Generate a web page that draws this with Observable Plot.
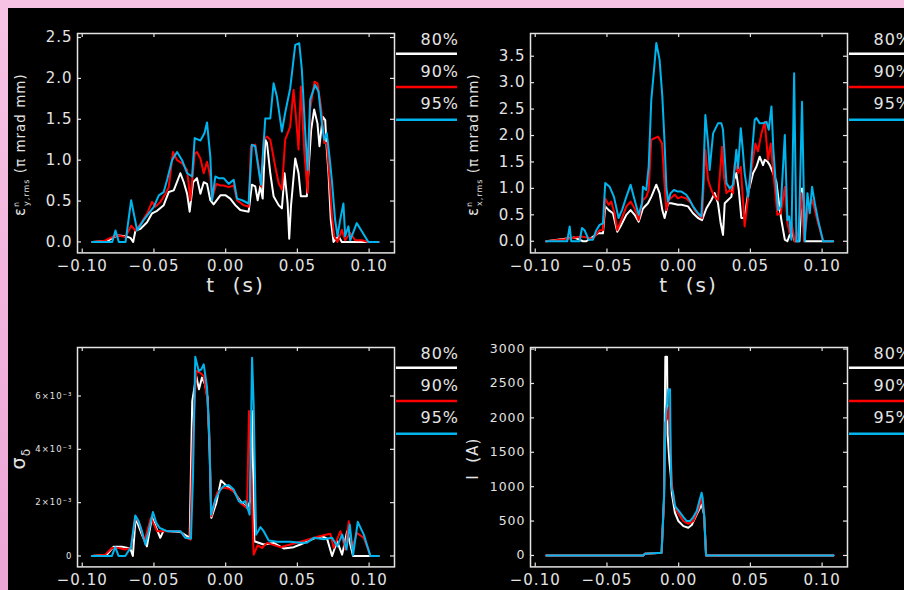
<!DOCTYPE html>
<html><head><meta charset="utf-8">
<script src="https://cdn.jsdelivr.net/npm/d3@7"></script>
<script src="https://cdn.jsdelivr.net/npm/@observablehq/plot@0.6"></script>
<style>
html,body{margin:0;padding:0;width:904px;height:590px;overflow:hidden;}
body{background:linear-gradient(to bottom,#f7c3e4,#eba5d6);position:relative;font-family:"DejaVu Sans",sans-serif;}
#bg{position:absolute;left:8px;top:8px;width:896px;height:582px;background:#000;}
svg{position:absolute;overflow:visible;}
</style></head><body><div id="bg"></div>
<script>
// ---------- data (t in s, value) ----------
const xTicks = [-0.10, -0.05, 0.00, 0.05, 0.10];
const seriesNames = ["80%", "90%", "95%"];
const seriesColors = ["#ffffff", "#ff0000", "#00b4ee"];

// Panel 1: normalised rms vertical emittance (pi mrad mm)
const p1_80 = [[-0.0930,0],[-0.0826,0.01],[-0.0780,0.06],[-0.0745,0.08],[-0.0698,0.07],[-0.0664,0.05],[-0.0645,0],[-0.0629,0.14],[-0.0594,0.16],[-0.0548,0.24],[-0.0513,0.35],[-0.0478,0.38],[-0.0432,0.45],[-0.0397,0.61],[-0.0362,0.63],[-0.0316,0.84],[-0.0292,0.73],[-0.0269,0.59],[-0.0251,0.37],[-0.0227,0.73],[-0.0200,0.78],[-0.0176,0.59],[-0.0153,0.73],[-0.0130,0.71],[-0.0107,0.51],[-0.0084,0.46],[-0.0037,0.57],[0.0000,0.57],[0.0032,0.53],[0.0067,0.45],[0.0102,0.39],[0.0160,0.37],[0.0183,0.70],[0.0206,0.68],[0.0223,0.51],[0.0241,0.68],[0.0258,0.53],[0.0276,1.25],[0.0288,1.21],[0.0311,0.84],[0.0334,0.56],[0.0369,0.45],[0.0392,0.41],[0.0411,0.84],[0.0432,0.47],[0.0443,0.04],[0.0455,0.43],[0.0485,1.02],[0.0508,0.84],[0.0524,0.56],[0.0566,0.56],[0.0596,1.37],[0.0617,1.62],[0.0640,1.45],[0.0654,1.17],[0.0677,1.53],[0.0694,1.49],[0.0705,1.13],[0.0717,0.84],[0.0733,0.27],[0.0752,0],[0.0787,0.07],[0.0810,0],[0.0995,0],[0.1065,0]];
const p1_90 = [[-0.0930,0],[-0.0849,0.01],[-0.0803,0.05],[-0.0756,0.08],[-0.0698,0.06],[-0.0659,0.20],[-0.0629,0.14],[-0.0594,0.22],[-0.0548,0.35],[-0.0513,0.49],[-0.0490,0.43],[-0.0455,0.49],[-0.0420,0.59],[-0.0397,0.67],[-0.0367,1.10],[-0.0339,1.00],[-0.0304,0.96],[-0.0269,0.88],[-0.0246,0.51],[-0.0216,1.08],[-0.0200,1.10],[-0.0176,1.02],[-0.0153,0.84],[-0.0130,0.98],[-0.0107,0.80],[-0.0095,0.53],[-0.0065,0.71],[-0.0037,0.69],[-0.0014,0.69],[0.0021,0.67],[0.0056,0.69],[0.0079,0.51],[0.0125,0.45],[0.0160,0.43],[0.0176,1.17],[0.0206,1.19],[0.0230,0.92],[0.0246,0.68],[0.0265,1.25],[0.0288,1.29],[0.0311,1.25],[0.0346,0.92],[0.0369,0.72],[0.0392,0.64],[0.0415,1.25],[0.0450,1.41],[0.0473,1.86],[0.0490,1.53],[0.0508,1.13],[0.0524,1.90],[0.0548,1.11],[0.0571,0.60],[0.0589,1.62],[0.0619,1.96],[0.0640,1.94],[0.0664,1.66],[0.0687,1.21],[0.0705,1.21],[0.0724,0.76],[0.0740,0.33],[0.0756,0.07],[0.0780,0],[0.0810,0.15],[0.0833,0.02],[0.0868,0.11],[0.0903,0.02],[0.0949,0.02],[0.0995,0],[0.1065,0]];
const p1_95 = [[-0.0930,0],[-0.0791,0],[-0.0768,0.14],[-0.0745,0],[-0.0698,0],[-0.0659,0.51],[-0.0617,0.14],[-0.0571,0.27],[-0.0536,0.35],[-0.0501,0.43],[-0.0466,0.57],[-0.0432,0.61],[-0.0408,0.76],[-0.0374,1.00],[-0.0339,1.10],[-0.0304,1.00],[-0.0269,0.84],[-0.0234,0.80],[-0.0216,1.27],[-0.0176,1.24],[-0.0148,1.33],[-0.0130,1.46],[-0.0107,1.04],[-0.0095,0.51],[-0.0072,0.80],[-0.0049,0.78],[-0.0014,0.78],[0.0021,0.71],[0.0056,0.76],[0.0079,0.53],[0.0114,0.51],[0.0160,0.47],[0.0183,1.19],[0.0206,1.17],[0.0230,0.88],[0.0246,0.70],[0.0265,1.21],[0.0276,1.51],[0.0311,1.51],[0.0334,1.94],[0.0357,1.78],[0.0392,1.35],[0.0415,1.58],[0.0450,1.88],[0.0485,2.41],[0.0513,2.43],[0.0531,2.11],[0.0555,1.33],[0.0571,0.88],[0.0589,1.74],[0.0624,1.92],[0.0647,1.84],[0.0671,1.45],[0.0687,1.25],[0.0705,1.33],[0.0724,1.04],[0.0740,0.76],[0.0763,0.27],[0.0780,0.07],[0.0798,0.27],[0.0821,0.47],[0.0833,0.07],[0.0856,0.19],[0.0868,0.02],[0.0914,0.23],[0.0949,0.13],[0.0995,0],[0.1065,0]];
const p1_yTicks = [0, 0.5, 1.0, 1.5, 2.0, 2.5];

// Panel 2: normalised rms horizontal emittance (pi mrad mm)
const p2_80 = [[-0.0923,0],[-0.0726,0.07],[-0.0667,0],[-0.0644,0],[-0.0563,0.15],[-0.0528,0.15],[-0.0512,0.66],[-0.0488,0.59],[-0.0458,0.53],[-0.0428,0.18],[-0.0400,0.31],[-0.0365,0.50],[-0.0335,0.59],[-0.0307,0.50],[-0.0279,0.37],[-0.0249,0.62],[-0.0214,0.72],[-0.0191,0.84],[-0.0156,1.07],[-0.0133,0.91],[-0.0114,0.59],[-0.0098,0.44],[-0.0074,0.72],[-0.0051,0.72],[-0.0005,0.69],[0.0019,0.69],[0.0065,0.66],[0.0100,0.53],[0.0135,0.44],[0.0163,0.40],[0.0193,0.62],[0.0228,0.78],[0.0251,0.91],[0.0274,0.72],[0.0293,0.34],[0.0309,0.12],[0.0321,0.72],[0.0344,0.78],[0.0367,0.84],[0.0386,1.16],[0.0402,1.29],[0.0419,0.97],[0.0437,0.44],[0.0460,0.44],[0.0484,0.91],[0.0519,1.29],[0.0542,1.41],[0.0565,1.60],[0.0588,1.44],[0.0600,1.54],[0.0619,1.51],[0.0635,1.44],[0.0658,1.29],[0.0681,1.13],[0.0698,0.75],[0.0716,0.40],[0.0740,0.03],[0.0758,0],[0.0786,0.21],[0.0809,0],[0.0842,0],[0.0860,1.00],[0.0879,0],[0.1077,0]];
const p2_90 = [[-0.0923,0],[-0.0795,0.04],[-0.0679,0.09],[-0.0598,0.05],[-0.0551,0.21],[-0.0528,0.21],[-0.0512,0.81],[-0.0488,0.69],[-0.0470,0.75],[-0.0447,0.53],[-0.0428,0.21],[-0.0400,0.40],[-0.0365,0.66],[-0.0335,0.75],[-0.0307,0.62],[-0.0279,0.40],[-0.0249,0.78],[-0.0226,0.84],[-0.0209,0.97],[-0.0191,1.92],[-0.0144,1.98],[-0.0116,1.85],[-0.0102,1.22],[-0.0086,0.59],[-0.0070,0.78],[-0.0028,0.88],[-0.0005,0.81],[0.0019,0.84],[0.0053,0.81],[0.0088,0.72],[0.0112,0.59],[0.0147,0.47],[0.0163,0.44],[0.0186,1.73],[0.0205,1.16],[0.0228,0.97],[0.0251,0.84],[0.0274,0.78],[0.0302,1.79],[0.0316,1.22],[0.0333,0.91],[0.0356,0.97],[0.0379,0.91],[0.0391,1.48],[0.0414,1.29],[0.0433,1.41],[0.0460,0.28],[0.0484,0.84],[0.0507,1.35],[0.0535,1.85],[0.0553,1.70],[0.0577,2.04],[0.0600,2.26],[0.0623,1.54],[0.0642,1.85],[0.0660,1.29],[0.0674,0.91],[0.0688,0.50],[0.0712,0.53],[0.0740,1.03],[0.0758,0.34],[0.0774,0.15],[0.0786,0.37],[0.0809,0],[0.0833,0.15],[0.0856,0.91],[0.0874,0],[0.0902,0.62],[0.0930,0.78],[0.0949,0.59],[0.0972,0.34],[0.1007,0],[0.1077,0]];
const p2_95 = [[-0.0923,0],[-0.0777,0],[-0.0760,0.28],[-0.0749,0],[-0.0691,0],[-0.0674,0.25],[-0.0656,0.21],[-0.0628,0.03],[-0.0598,0.03],[-0.0574,0.21],[-0.0551,0.31],[-0.0528,0.34],[-0.0512,1.10],[-0.0481,1.03],[-0.0451,0.84],[-0.0419,0.44],[-0.0395,0.59],[-0.0365,0.84],[-0.0335,1.07],[-0.0307,0.78],[-0.0279,0.50],[-0.0256,0.72],[-0.0249,1.03],[-0.0226,0.97],[-0.0209,1.41],[-0.0191,2.67],[-0.0172,3.24],[-0.0156,3.75],[-0.0133,3.43],[-0.0114,2.74],[-0.0098,1.85],[-0.0086,1.03],[-0.0074,0.75],[-0.0056,0.91],[-0.0033,0.97],[-0.0005,0.94],[0.0019,0.94],[0.0053,0.88],[0.0077,0.78],[0.0100,0.66],[0.0135,0.53],[0.0158,0.47],[0.0170,1.07],[0.0186,2.39],[0.0205,1.85],[0.0216,1.35],[0.0240,2.04],[0.0274,2.23],[0.0298,2.23],[0.0309,2.11],[0.0333,1.10],[0.0356,1.00],[0.0379,1.07],[0.0402,1.73],[0.0414,1.38],[0.0433,2.14],[0.0447,1.73],[0.0460,1.29],[0.0484,0.84],[0.0502,1.35],[0.0530,2.30],[0.0542,2.33],[0.0565,2.23],[0.0588,2.23],[0.0612,2.26],[0.0628,2.11],[0.0647,2.55],[0.0660,1.73],[0.0674,1.22],[0.0693,0.59],[0.0712,0.66],[0.0740,2.01],[0.0758,0.40],[0.0770,0.47],[0.0786,0.03],[0.0805,3.18],[0.0821,0],[0.0837,0],[0.0860,2.64],[0.0879,0],[0.0898,0.91],[0.0914,0.53],[0.0930,1.03],[0.0949,0.72],[0.0972,0.40],[0.1007,0],[0.1077,0]];
const p2_yTicks = [0, 0.5, 1.0, 1.5, 2.0, 2.5, 3.0, 3.5];

// Panel 3: rms relative energy spread sigma_delta
const p3_80 = [[-0.0933,0],[-0.0828,0.05e-3],[-0.0781,0.35e-3],[-0.0723,0.35e-3],[-0.0665,0.28e-3],[-0.0647,0],[-0.0628,1.43e-3],[-0.0584,0.80e-3],[-0.0549,0.36e-3],[-0.0514,1.45e-3],[-0.0479,0.99e-3],[-0.0456,0.68e-3],[-0.0433,0.95e-3],[-0.0316,0.90e-3],[-0.0251,0.68e-3],[-0.0233,5.81e-3],[-0.0205,6.75e-3],[-0.0186,6.25e-3],[-0.0165,6.69e-3],[-0.0144,6.44e-3],[-0.0126,5.94e-3],[-0.0112,3.93e-3],[-0.0100,1.43e-3],[-0.0065,1.99e-3],[-0.0033,2.83e-3],[0.0009,2.62e-3],[0.0056,2.43e-3],[0.0102,2.06e-3],[0.0149,1.80e-3],[0.0172,2.06e-3],[0.0184,5.44e-3],[0.0200,0.55e-3],[0.0265,0.43e-3],[0.0335,0.49e-3],[0.0405,0.28e-3],[0.0474,0.33e-3],[0.0521,0.43e-3],[0.0614,0.65e-3],[0.0672,0.74e-3],[0.0707,0.65e-3],[0.0742,0],[0.0777,0.55e-3],[0.0812,0.05e-3],[0.0847,0.93e-3],[0.0888,0],[0.1067,0]];
const p3_90 = [[-0.0933,0],[-0.0840,0.05e-3],[-0.0793,0.30e-3],[-0.0747,0.30e-3],[-0.0700,0.24e-3],[-0.0660,0.30e-3],[-0.0630,1.49e-3],[-0.0600,1.20e-3],[-0.0567,0.55e-3],[-0.0521,1.43e-3],[-0.0479,0.93e-3],[-0.0409,0.93e-3],[-0.0316,0.93e-3],[-0.0281,0.70e-3],[-0.0247,0.61e-3],[-0.0228,4.56e-3],[-0.0205,6.94e-3],[-0.0181,6.88e-3],[-0.0153,6.75e-3],[-0.0126,5.81e-3],[-0.0112,4.31e-3],[-0.0100,1.49e-3],[-0.0060,2.37e-3],[-0.0019,2.56e-3],[0.0021,2.53e-3],[0.0067,2.37e-3],[0.0102,1.99e-3],[0.0149,1.80e-3],[0.0163,5.44e-3],[0.0177,3.31e-3],[0.0195,0.05e-3],[0.0223,0.40e-3],[0.0253,0.30e-3],[0.0288,0.49e-3],[0.0381,0.33e-3],[0.0451,0.43e-3],[0.0521,0.53e-3],[0.0660,0.75e-3],[0.0730,0.83e-3],[0.0753,0.30e-3],[0.0800,0.93e-3],[0.0835,0.24e-3],[0.0858,1.30e-3],[0.0881,0.30e-3],[0.0916,0.86e-3],[0.0963,0.68e-3],[0.1009,0],[0.1067,0]];
const p3_95 = [[-0.0933,0],[-0.0793,0],[-0.0770,0.33e-3],[-0.0747,0],[-0.0700,0],[-0.0660,0.33e-3],[-0.0630,1.52e-3],[-0.0607,1.30e-3],[-0.0584,0.93e-3],[-0.0560,0.43e-3],[-0.0537,0.93e-3],[-0.0507,1.65e-3],[-0.0484,1.24e-3],[-0.0460,1.05e-3],[-0.0409,0.93e-3],[-0.0316,0.93e-3],[-0.0281,0.68e-3],[-0.0242,0.65e-3],[-0.0228,2.93e-3],[-0.0212,7.47e-3],[-0.0188,6.94e-3],[-0.0170,7.00e-3],[-0.0153,7.19e-3],[-0.0130,6.32e-3],[-0.0114,4.56e-3],[-0.0102,1.55e-3],[-0.0072,2.12e-3],[-0.0037,2.49e-3],[-0.0014,2.62e-3],[0.0021,2.66e-3],[0.0056,2.49e-3],[0.0091,2.06e-3],[0.0114,1.99e-3],[0.0137,2.06e-3],[0.0167,1.55e-3],[0.0184,7.44e-3],[0.0195,5.69e-3],[0.0212,0.80e-3],[0.0242,1.08e-3],[0.0265,0.93e-3],[0.0300,0.58e-3],[0.0358,0.53e-3],[0.0451,0.53e-3],[0.0521,0.50e-3],[0.0567,0.50e-3],[0.0614,0.68e-3],[0.0684,0.63e-3],[0.0742,0.68e-3],[0.0777,0.36e-3],[0.0812,0.80e-3],[0.0842,0.24e-3],[0.0865,1.18e-3],[0.0888,0.03e-3],[0.0921,1.28e-3],[0.0963,0.80e-3],[0.1009,0],[0.1067,0]];
const p3_yTicks = [0, 0.002, 0.004, 0.006];

// Panel 4: current I (A)
const p4_80 = [[-0.0923,0],[-0.0247,0],[-0.0235,24],[-0.0119,39],[-0.0102,850],[-0.0093,2888],[-0.0081,2888],[-0.0077,1762],[-0.0065,1374],[-0.0056,1180],[-0.0047,888],[-0.0026,621],[-0.0002,500],[0.0033,427],[0.0067,403],[0.0091,442],[0.0126,597],[0.0149,694],[0.0160,740],[0.0177,597],[0.0184,306],[0.0191,0],[0.1079,0]];
const p4_90 = [[-0.0923,0],[-0.0247,0],[-0.0235,24],[-0.0119,39],[-0.0102,791],[-0.0093,1932],[-0.0079,2000],[-0.0072,2150],[-0.0060,1859],[-0.0049,1082],[-0.0033,791],[-0.0014,646],[0.0033,500],[0.0067,461],[0.0102,500],[0.0137,670],[0.0160,840],[0.0177,597],[0.0184,306],[0.0191,0],[0.1079,0]];
const p4_95 = [[-0.0923,0],[-0.0247,0],[-0.0235,24],[-0.0119,39],[-0.0102,840],[-0.0091,2053],[-0.0079,2247],[-0.0072,2417],[-0.0060,2417],[-0.0056,1471],[-0.0049,985],[-0.0037,888],[-0.0026,718],[-0.0002,655],[0.0033,558],[0.0056,500],[0.0079,500],[0.0102,558],[0.0126,645],[0.0144,791],[0.0160,913],[0.0167,840],[0.0177,597],[0.0184,306],[0.0191,0],[0.1079,0]];
const p4_yTicks = [0, 500, 1000, 1500, 2000, 2500, 3000];

// ---------- layout ----------
const C = "#e4e4e4";
const FW = 317, FH = 219.4, ML = 70, MR = 70, MT = 25, MB = 45;
const xDomain = [-0.1033, 0.1177];
const fmtX = d => (d < 0 ? "\u2212" : "") + Math.abs(d).toFixed(2);
const sup = {"-":"\u207B","0":"\u2070","1":"\u00B9","2":"\u00B2","3":"\u00B3"};

const panels = [
  {left: 77, top: 33.3, data: [p1_80, p1_90, p1_95], yDomain: [-0.134, 2.549], yTicks: p1_yTicks,
   yFmt: d => d.toFixed(1), yFont: 15, xTitle: true,
   yLabel: [{t:"\u03B5", s:15}, {t:"n", s:8, dy:-6}, {t:"y,rms", s:8, dx:-5, dy:10}, {t:" (\u03C0 mrad mm)", s:13.5, dy:-4}]},
  {left: 529.5, top: 33.3, data: [p2_80, p2_90, p2_95], yDomain: [-0.22, 3.93], yTicks: p2_yTicks,
   yFmt: d => d.toFixed(1), yFont: 15, xTitle: true,
   yLabel: [{t:"\u03B5", s:15}, {t:"n", s:8, dy:-6}, {t:"x,rms", s:8, dx:-5, dy:10}, {t:" (\u03C0 mrad mm)", s:13.5, dy:-4}]},
  {left: 77, top: 346.7, data: [p3_80, p3_90, p3_95], yDomain: [-0.41e-3, 7.82e-3], yTicks: p3_yTicks,
   yFmt: d => d === 0 ? "0" : Math.round(d * 1000) + "\u00D710\u207B\u00B3", yFont: 8.5, xTitle: false,
   yLabel: [{t:"\u03C3", s:19}, {t:"\u03B4", s:12, dy:5}]},
  {left: 529.5, top: 346.7, data: [p4_80, p4_90, p4_95], yDomain: [-166, 3023], yTicks: p4_yTicks,
   yFmt: d => String(d), yFont: 12.5, xTitle: false,
   yLabel: [{t:"I  (A)", s:15}]}
];

for (const p of panels) {
  const marks = [
    Plot.frame({stroke: C, strokeWidth: 1.5}),
    Plot.ruleX(xTicks, {stroke: C, strokeWidth: 1.2, insetTop: FH - 4}),
    Plot.ruleX(xTicks, {stroke: C, strokeWidth: 1.2, insetBottom: FH - 4}),
    Plot.ruleY(p.yTicks, {stroke: C, strokeWidth: 1.2, insetRight: FW - 4}),
    Plot.ruleY(p.yTicks, {stroke: C, strokeWidth: 1.2, insetLeft: FW - 4}),
    Plot.axisX(xTicks, {tickSize: 0, tickPadding: 7, tickFormat: fmtX, label: null, fontSize: 15, fill: C}),
    Plot.axisY(p.yTicks, {tickSize: 0, tickPadding: 5, tickFormat: p.yFmt, label: null, fontSize: p.yFont, fill: C})
  ];
  p.data.forEach((s, i) => {
    marks.push(Plot.line(s, {x: d => d[0], y: d => d[1], stroke: seriesColors[i], strokeWidth: 2}));
  });
  const svgEl = Plot.plot({
    width: ML + FW + MR, height: MT + FH + MB,
    marginLeft: ML, marginRight: MR, marginTop: MT, marginBottom: MB,
    style: {background: "transparent", color: C, fontFamily: "DejaVu Sans"},
    x: {domain: xDomain},
    y: {domain: p.yDomain},
    marks
  });
  svgEl.style.position = "absolute";
  svgEl.style.left = (p.left - ML) + "px";
  svgEl.style.top = (p.top - MT) + "px";
  svgEl.style.letterSpacing = "1px";
  svgEl.style.overflow = "visible";
  document.body.appendChild(svgEl);
  const svg = d3.select(svgEl);

  // y axis title
  const yt = svg.append("text")
    .attr("transform", `translate(18,${MT + FH / 2 + 2}) rotate(-90)`)
    .attr("text-anchor", "middle").attr("fill", C)
    .style("font-family", "DejaVu Sans").style("white-space", "pre").style("letter-spacing", "1px");
  p.yLabel.forEach(part => {
    yt.append("tspan").attr("font-size", part.s).attr("dx", part.dx || 0).attr("dy", part.dy || 0).text(part.t);
  });

  // x axis title
  if (p.xTitle) {
    svg.append("text").attr("x", ML + FW / 2).attr("y", MT + FH + 40)
      .attr("text-anchor", "middle").attr("fill", C).attr("font-size", 20)
      .style("font-family", "DejaVu Sans").style("white-space", "pre").style("letter-spacing", "2px")
      .text("t  (s)");
  }

  // legend
  const lineY = [20.7, 54, 86.7], textY = [11.8, 44.2, 75.8];
  seriesNames.forEach((name, i) => {
    svg.append("text").attr("x", ML + FW + 65).attr("y", MT + textY[i])
      .attr("text-anchor", "end").attr("fill", C).attr("font-size", 16)
      .style("font-family", "DejaVu Sans").style("letter-spacing", "1px").text(name);
    svg.append("line").attr("x1", ML + FW + 2).attr("x2", ML + FW + 63)
      .attr("y1", MT + lineY[i]).attr("y2", MT + lineY[i])
      .attr("stroke", seriesColors[i]).attr("stroke-width", 2.6);
  });
}
</script>
</body></html>
